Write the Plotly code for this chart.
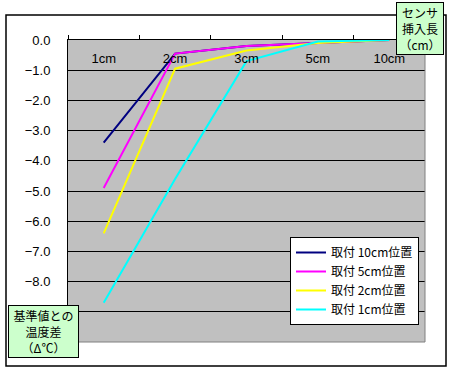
import plotly.graph_objects as go

categories = ["1cm", "2cm", "3cm", "5cm", "10cm"]
series_names = ["取付 10cm位置", "取付 5cm位置", "取付 2cm位置", "取付 1cm位置"]
s10 = [-3.4, -0.45, -0.2, -0.1, 0.0]
s5 = [-4.9, -0.45, -0.2, -0.1, 0.0]
s2 = [-6.4, -0.95, -0.35, -0.1, 0.0]
s1 = [-8.7, -4.6, -0.7, -0.05, 0.0]
colors = ["#000080", "#FF00FF", "#FFFF00", "#00FFFF"]
y_ticks = [0, -1, -2, -3, -4, -5, -6, -7, -8, -9, -10]
# labels for -9 and -10 are hidden behind the axis-title box in the original
y_ticktext = ["0.0", "−1.0", "−2.0", "−3.0", "−4.0", "−5.0", "−6.0", "−7.0", "−8.0", "", ""]

# layout geometry (pixels)
W, H = 457, 372
L, R, T, B = 68, 425, 40, 342
pw, ph = R - L, B - T

def px(x):
    return (x - L) / pw

def py(y):
    return (B - y) / ph

fig = go.Figure()
for name, vals, c in zip(series_names, [s10, s5, s2, s1], colors):
    fig.add_trace(go.Scatter(x=categories, y=vals, mode="lines", name=name,
                             line=dict(color=c, width=2)))
# helper (invisible) trace so the label axis knows the categories
fig.add_trace(go.Scatter(x=categories, y=[None] * len(categories), xaxis="x2",
                         mode="lines", showlegend=False, hoverinfo="skip"))

fig.update_layout(
    width=W, height=H,
    margin=dict(l=L, r=W - R, t=T, b=H - B),
    paper_bgcolor="white",
    plot_bgcolor="#C0C0C0",
    font=dict(family="Liberation Sans, Arial, sans-serif", size=12, color="black"),
    showlegend=True,
    legend=dict(x=px(290), y=py(237), xanchor="left", yanchor="top",
                bgcolor="white", bordercolor="black", borderwidth=1,
                font=dict(family="Noto Sans CJK JP", size=12, color="black"),
                tracegroupgap=0, itemwidth=30),
    xaxis=dict(type="category", side="top", tickson="boundaries",
               ticks="outside", ticklen=4, tickcolor="black",
               showline=True, linecolor="black", linewidth=1,
               showgrid=False, zeroline=False, showticklabels=False,
               range=[-0.5, 4.5]),
    xaxis2=dict(type="category", overlaying="x", side="top",
                anchor="free", position=py(66), range=[-0.5, 4.5],
                ticks="", showline=False, showgrid=False, zeroline=False,
                tickfont=dict(size=13, color="black")),
    yaxis=dict(range=[-10, 0], tickvals=y_ticks, ticktext=y_ticktext,
               showgrid=True, gridcolor="black", gridwidth=1,
               showline=True, linecolor="black", linewidth=1,
               zeroline=False, ticks="", ticklabelstandoff=14,
               tickfont=dict(size=13, color="black")),
)

# chart border
fig.add_shape(type="rect", xref="paper", yref="paper",
              x0=px(6), x1=px(446), y0=py(366), y1=py(15),
              line=dict(color="black", width=1.5), layer="below")
# gray plot border right and bottom
fig.add_shape(type="line", xref="paper", yref="paper", x0=1, x1=1, y0=0, y1=1,
              line=dict(color="#808080", width=1))
fig.add_shape(type="line", xref="paper", yref="paper", x0=0, x1=1, y0=0, y1=0,
              line=dict(color="#808080", width=1))

fig.add_annotation(xref="paper", yref="paper", x=px(419.5), y=py(28.7),
                   xanchor="center", yanchor="middle", showarrow=False,
                   text="センサ<br>挿入長<br>（cm）", align="center",
                   font=dict(family="Noto Sans CJK JP", size=12, color="black"),
                   bgcolor="#CCFFCC", bordercolor="black", borderwidth=1,
                   borderpad=1, width=44, height=49)
fig.add_annotation(xref="paper", yref="paper", x=px(43), y=py(331.5),
                   xanchor="center", yanchor="middle", showarrow=False,
                   text="基準値との<br>温度差<br>（Δ℃）", align="center",
                   font=dict(family="Noto Sans CJK JP", size=12, color="black"),
                   bgcolor="#CCFFCC", bordercolor="black", borderwidth=1,
                   borderpad=1, width=67, height=49)

fig.write_html("out.html", config={"displayModeBar": False},
               post_script="document.body.style.margin='0';document.body.style.overflow='hidden';")
